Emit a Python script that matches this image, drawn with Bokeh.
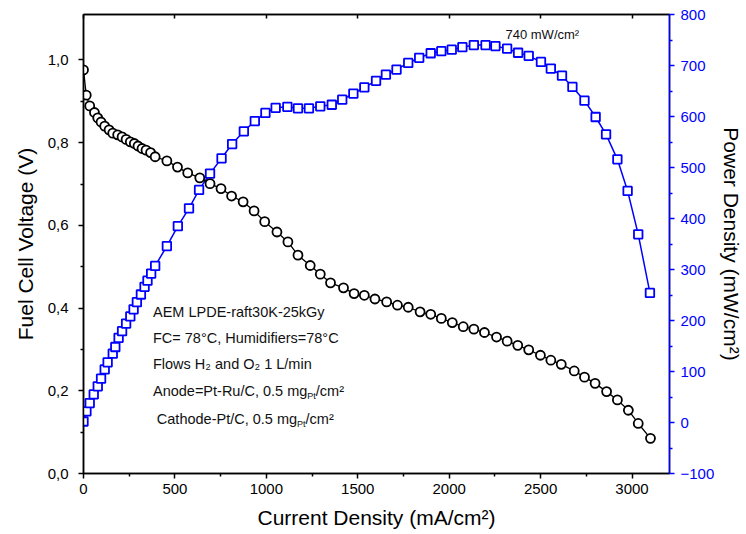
from bokeh.plotting import figure
from bokeh.models import Range1d, LinearAxis, FixedTicker, ColumnDataSource
from bokeh.core.properties import value
from bokeh.embed import file_html
from bokeh.resources import INLINE

# ---------------- data ----------------
current_v = [0, 15, 34, 60, 78, 96, 116, 140, 160, 187,
             211, 233, 256, 278, 298, 320, 342, 367, 392, 456,
             514, 570, 636, 692, 752, 810, 873, 933, 991, 1058,
             1118, 1173, 1240, 1295, 1351, 1422, 1480, 1536, 1594, 1658,
             1717, 1776, 1841, 1899, 1957, 2017, 2077, 2135, 2193, 2259,
             2317, 2375, 2435, 2499, 2556, 2613, 2684, 2740, 2798, 2861,
             2920, 2980, 3034, 3101]
voltage = [0.976, 0.915, 0.889, 0.873, 0.860, 0.850, 0.840, 0.831, 0.823, 0.819,
           0.814, 0.808, 0.802, 0.798, 0.792, 0.786, 0.782, 0.776, 0.766, 0.756,
           0.741, 0.727, 0.715, 0.701, 0.689, 0.671, 0.657, 0.635, 0.609, 0.584,
           0.560, 0.528, 0.503, 0.482, 0.461, 0.449, 0.435, 0.431, 0.422, 0.415,
           0.407, 0.402, 0.391, 0.385, 0.375, 0.365, 0.355, 0.349, 0.341, 0.330,
           0.320, 0.310, 0.299, 0.286, 0.274, 0.264, 0.248, 0.233, 0.218, 0.198,
           0.178, 0.153, 0.121, 0.085]

current_p = [0, 16, 34, 56, 78, 96, 116, 132, 160, 174,
             192, 211, 233, 256, 274, 292, 314, 334, 350, 370,
             392, 456, 516, 577, 632, 692, 755, 813, 877, 937,
             995, 1051, 1115, 1173, 1233, 1295, 1358, 1415, 1476, 1536,
             1600, 1654, 1712, 1776, 1836, 1899, 1957, 2014, 2072, 2135,
             2199, 2253, 2317, 2377, 2435, 2502, 2556, 2617, 2674, 2740,
             2801, 2858, 2920, 2976, 3034, 3098]
power = [2, 22, 38, 55, 71, 86, 104, 118, 135, 148,
         166, 179, 194, 208, 222, 236, 251, 266, 278, 292,
         307, 346, 385, 420, 456, 488, 518, 546, 571, 591,
         607, 617, 619, 616, 616, 620, 623, 633, 645, 657,
         670, 682, 692, 705, 715, 724, 728, 731, 736, 740,
         740, 738, 733, 725, 719, 707, 694, 680, 658, 631,
         599, 565, 516, 454, 369, 254]

x_ticks = [0, 500, 1000, 1500, 2000, 2500, 3000]
x_minor = [250, 750, 1250, 1750, 2250, 2750, 3250]
v_ticks = [0.0, 0.2, 0.4, 0.6, 0.8, 1.0]
v_labels = ["0,0", "0,2", "0,4", "0,6", "0,8", "1,0"]
v_minor = [0.1, 0.3, 0.5, 0.7, 0.9]
p_ticks = [-100, 0, 100, 200, 300, 400, 500, 600, 700, 800]
p_minor = [-50, 50, 150, 250, 350, 450, 550, 650, 750]

peak_label = "740 mW/cm²"

FONT = "Liberation Sans"
BLUE = "#0000FF"
INK = "#000000"

# Arial / Liberation Sans advance widths (1/1000 em) for placing sub-scripts
AW = {' ': 278, '(': 333, ')': 333, ',': 278, '-': 333, '.': 278, '/': 278, '=': 584,
      '°': 400, 'A': 667, 'C': 722, 'P': 667, 'R': 722, 'a': 556, 'd': 556, 'e': 556,
      'g': 556, 'h': 556, 'm': 833, 'n': 556, 'o': 556, 't': 278, 'u': 556, 'c': 500}
for ch in "0123456789":
    AW[ch] = 556


def tw(s, size):
    return sum(AW.get(c, 556) for c in s) * size / 1000.0


p = figure(width=746, height=534,
           x_range=Range1d(0, 3205), y_range=Range1d(0, 1.11),
           output_backend="svg", toolbar_location=None,
           min_border_left=83, min_border_right=74,
           min_border_top=14, min_border_bottom=61)
p.extra_y_ranges = {"power": Range1d(-100, 800)}
p.xgrid.visible = False
p.ygrid.visible = False
p.outline_line_color = "black"
p.outline_line_width = 1.5
p.background_fill_color = "white"
p.border_fill_color = "white"


def style_black(ax):
    ax.axis_label_text_font = FONT
    ax.axis_label_text_font_style = "normal"
    ax.axis_label_text_font_size = "21px"
    ax.axis_label_text_color = INK
    ax.major_label_text_font = FONT
    ax.major_label_text_font_size = "15px"
    ax.major_label_text_color = INK
    ax.axis_line_color = INK
    ax.major_tick_line_color = INK
    ax.minor_tick_line_color = INK
    ax.axis_line_width = 1.5
    ax.major_tick_line_width = 1.5
    ax.minor_tick_line_width = 1.5
    ax.major_tick_in = 0
    ax.major_tick_out = 5
    ax.minor_tick_in = 0
    ax.minor_tick_out = 3


# bottom axis
xa = p.xaxis[0]
style_black(xa)
xa.ticker = FixedTicker(ticks=x_ticks, minor_ticks=x_minor)
xa.axis_label = "Current Density (mA/cm²)"
xa.axis_label_standoff = 9
xa.major_label_standoff = 5

# left axis
ya = p.yaxis[0]
style_black(ya)
ya.ticker = FixedTicker(ticks=v_ticks, minor_ticks=v_minor)
ya.major_label_overrides = {t: l for t, l in zip(v_ticks, v_labels)}
ya.axis_label = "Fuel Cell Voltage (V)"
ya.axis_label_standoff = 8
ya.major_label_standoff = 10

# right axis (power)
ra = LinearAxis(y_range_name="power",
                ticker=FixedTicker(ticks=p_ticks, minor_ticks=p_minor))
style_black(ra)
ra.axis_label = "Power Density (mW/cm²)"
ra.axis_label_standoff = 3
ra.major_label_text_color = BLUE
ra.major_label_standoff = 6
ra.axis_line_color = BLUE
ra.major_tick_line_color = BLUE
ra.minor_tick_line_color = BLUE
p.add_layout(ra, "right")

# top inward ticks (no labels)
ta = LinearAxis(ticker=FixedTicker(ticks=x_ticks, minor_ticks=[]))
ta.major_label_overrides = {t: "" for t in x_ticks}
ta.major_label_standoff = 0
ta.axis_line_color = INK
ta.major_tick_line_color = INK
ta.axis_line_width = 1.5
ta.major_tick_line_width = 1.5
ta.major_tick_in = 4
ta.major_tick_out = 0
ta.minor_tick_in = 0
ta.minor_tick_out = 0
p.add_layout(ta, "above")

# data
src_p = ColumnDataSource(dict(x=current_p, y=power))
src_v = ColumnDataSource(dict(x=current_v, y=voltage))
p.line("x", "y", source=src_p, y_range_name="power", line_color=BLUE, line_width=1.5)
p.scatter("x", "y", source=src_p, y_range_name="power", marker="square", size=8.5,
          line_color=BLUE, line_width=1.8, fill_color="white")
p.line("x", "y", source=src_v, line_color="black", line_width=1.3)
p.scatter("x", "y", source=src_v, marker="circle", size=9,
          line_color="black", line_width=1.8, fill_color="white")

# annotations
TS = 14.5
SUB = 9
tx = 380


def put(x, y, s, size=TS, dx=0, dy=0, color="#111111"):
    p.text(x=[x], y=[y], text=[s], text_font=value(FONT), text_font_size=value(f"{size}px"),
           text_color=color, text_align="left", text_baseline="middle",
           x_offset=dx, y_offset=dy)


put(tx, 0.391, "AEM LPDE-raft30K-25kGy")
put(tx, 0.328, "FC= 78°C, Humidifiers=78°C")
put(tx, 0.265, "Flows H₂ and O₂ 1 L/min")

s1 = "Anode=Pt-Ru/C, 0.5 mg"
put(tx, 0.200, s1)
put(tx, 0.200, "Pt", size=SUB, dx=tw(s1, TS), dy=5)
put(tx, 0.200, "/cm²", dx=tw(s1, TS) + tw("Pt", SUB))

tx2 = 401
s2 = "Cathode-Pt/C, 0.5 mg"
put(tx2, 0.132, s2)
put(tx2, 0.132, "Pt", size=SUB, dx=tw(s2, TS), dy=5)
put(tx2, 0.132, "/cm²", dx=tw(s2, TS) + tw("Pt", SUB))

put(2308, 1.062, peak_label, size=13)

open("out.html", "w").write(file_html(p, INLINE))
